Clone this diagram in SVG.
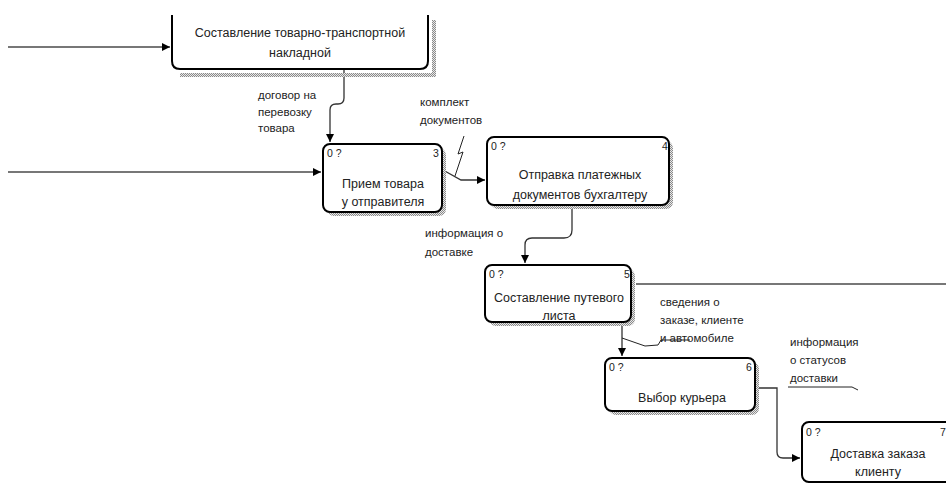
<svg xmlns="http://www.w3.org/2000/svg" width="946" height="483" viewBox="0 0 946 483">
<defs>
<pattern id="dots" width="2" height="2" patternUnits="userSpaceOnUse">
<rect width="2" height="2" fill="#e8e8e8"/>
<rect width="1" height="1" fill="#8a8a8a"/>
<rect x="1" y="1" width="1" height="1" fill="#8a8a8a"/>
</pattern>
<marker id="arr" viewBox="0 0 8 8" refX="8" refY="4" markerWidth="8" markerHeight="8" markerUnits="userSpaceOnUse" orient="auto">
<path d="M0,0 L8,4 L0,8 Z" fill="#000"/>
</marker>
</defs>
<style>
text{font-family:"Liberation Sans",Arial,sans-serif;fill:#222}
.t{font-size:12.5px;text-anchor:middle}
.l{font-size:11.5px}
.n{font-size:10.5px}
.box{fill:#fff;stroke:#000;stroke-width:2}
.sh{fill:url(#dots)}
.c{fill:none;stroke:#333;stroke-width:1.3}
.in{fill:none;stroke:#777;stroke-width:2}
.sq{fill:none;stroke:#222;stroke-width:1}
</style>
<rect width="946" height="483" fill="#fff"/>

<g id="connectors">
<path class="in" d="M8,47 H170" marker-end="url(#arr)"/>
<path class="in" d="M8,172 H321" marker-end="url(#arr)"/>
<path class="c" d="M344,70 V98 Q344,104 338,104 L336,104 Q330,104 330,110 V142" marker-end="url(#arr)"/>
<path class="c" d="M443,170 L461,180 H485" marker-end="url(#arr)"/>
<path class="c" d="M572,206 V230 Q572,238 564,238 H532 Q525,238 525,245 V263" marker-end="url(#arr)"/>
<path class="in" d="M636,284 H946"/>
<path class="c" d="M622,323 V356" marker-end="url(#arr)"/>
<path class="c" d="M758,388 H777 V452 Q777,458 783,458 H800" marker-end="url(#arr)"/>
<path class="sq" d="M464,136 L458,154 L463,152 L455,176"/>
<path class="sq" d="M622,338 L645,346 L658,345 L661,340 L690,340"/>
<path class="sq" d="M788,387 H852 L858,390"/>
</g>

<g id="node1">
<path class="sh" d="M432,20 H436 V77 H180 V73 H432 Z"/>
<path class="box" d="M172,15 V61 Q172,69 180,69 H420 Q428,69 428,61 V15"/>
<text class="t" x="300" y="37">Составление товарно-транспортной</text>
<text class="t" x="300" y="57">накладной</text>
</g>

<g id="node3">
<rect class="sh" x="327" y="148" width="119" height="68" rx="7"/>
<rect class="box" x="323" y="144" width="119" height="68" rx="7"/>
<text class="n" x="327" y="157">0 ?</text>
<text class="n" x="433" y="157">3</text>
<text class="t" x="383" y="188">Прием товара</text>
<text class="t" x="383" y="206">у отправителя</text>
</g>

<g id="node4">
<rect class="sh" x="491" y="141" width="182" height="68" rx="7"/>
<rect class="box" x="487" y="137" width="182" height="68" rx="7"/>
<text class="n" x="491" y="150">0 ?</text>
<text class="n" x="662" y="150">4</text>
<text class="t" x="580" y="179">Отправка платежных</text>
<text class="t" x="580" y="199">документов бухгалтеру</text>
</g>

<g id="node5">
<rect class="sh" x="489" y="269" width="146" height="57" rx="7"/>
<rect class="box" x="485" y="265" width="146" height="57" rx="7"/>
<text class="n" x="489" y="278">0 ?</text>
<text class="n" x="624" y="278">5</text>
<text class="t" x="559" y="302">Составление путевого</text>
<text class="t" x="559" y="320">листа</text>
</g>

<g id="node6">
<rect class="sh" x="609" y="362" width="150" height="53" rx="7"/>
<rect class="box" x="605" y="358" width="150" height="53" rx="7"/>
<text class="n" x="609" y="371">0 ?</text>
<text class="n" x="746" y="371">6</text>
<text class="t" x="682" y="402">Выбор курьера</text>
</g>

<g id="node7">
<rect class="sh" x="806" y="426" width="150" height="60" rx="7"/>
<rect class="box" x="802" y="422" width="150" height="60" rx="7"/>
<text class="n" x="806" y="436">0 ?</text>
<text class="n" x="940" y="436">7</text>
<text class="t" x="878" y="458">Доставка заказа</text>
<text class="t" x="878" y="476">клиенту</text>
</g>

<g id="labels">
<text class="l" x="258" y="99">договор на</text>
<text class="l" x="258" y="116">перевозку</text>
<text class="l" x="258" y="132">товара</text>
<text class="l" x="420" y="106">комплект</text>
<text class="l" x="420" y="124">документов</text>
<text class="l" x="425" y="237">информация о</text>
<text class="l" x="425" y="256">доставке</text>
<text class="l" x="660" y="306">сведения о</text>
<text class="l" x="660" y="324">заказе, клиенте</text>
<text class="l" x="660" y="342">и автомобиле</text>
<text class="l" x="790" y="346">информация</text>
<text class="l" x="790" y="364">о статусов</text>
<text class="l" x="790" y="382">доставки</text>
</g>
</svg>
